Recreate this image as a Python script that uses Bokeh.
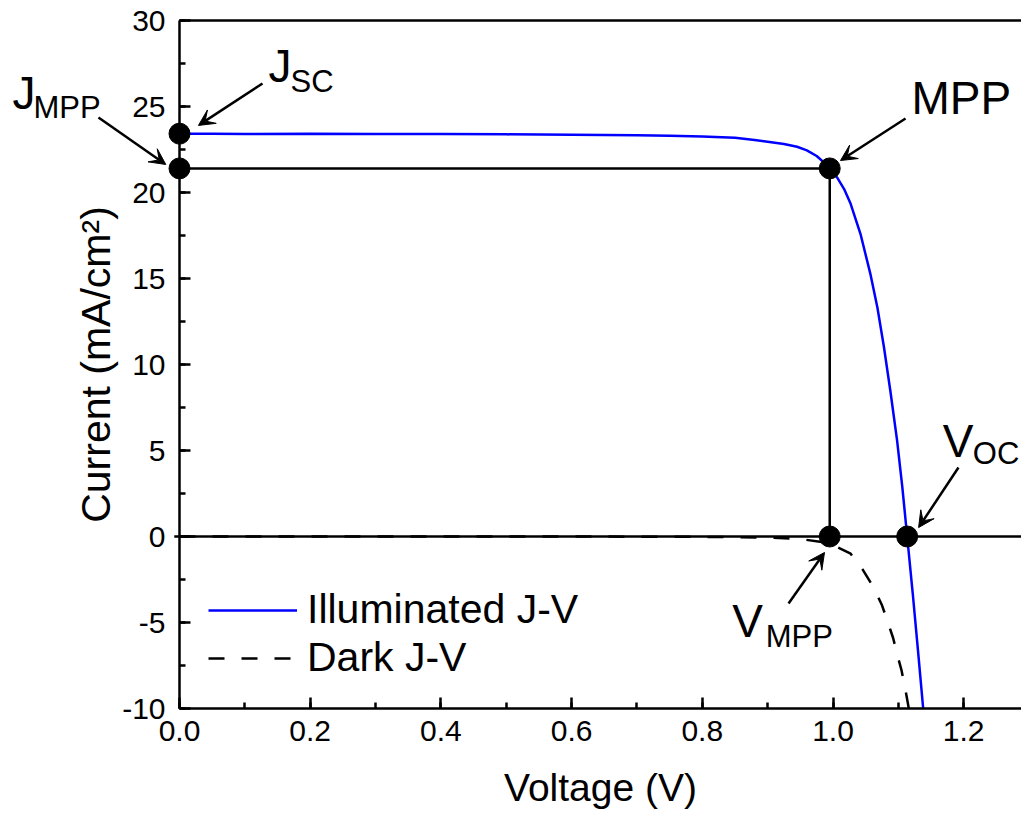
from bokeh.plotting import figure
from bokeh.models import (Range1d, LinearAxis, SingleIntervalTicker, FixedTicker, Label,
                          Arrow, VeeHead, Legend, LegendItem, NumeralTickFormatter)
from bokeh.embed import file_html
from bokeh.resources import INLINE

FONT = "Liberation Sans"

# ---------------- data ----------------
voltage_light = [0.0, 0.05, 0.1, 0.2, 0.3, 0.4, 0.5, 0.6, 0.7, 0.75, 0.8, 0.85, 0.88, 0.9,
                 0.925, 0.945, 0.96, 0.975, 0.986, 0.995, 1.006, 1.017, 1.027, 1.042, 1.057,
                 1.068, 1.078, 1.088, 1.098, 1.106, 1.1135, 1.122, 1.13, 1.138]
current_light = [23.42, 23.42, 23.40, 23.41, 23.40, 23.40, 23.38, 23.36, 23.33, 23.30, 23.26,
                 23.18, 23.05, 22.95, 22.82, 22.66, 22.45, 22.12, 21.75, 21.38, 20.89, 20.20,
                 19.34, 17.60, 15.30, 13.30, 11.00, 8.40, 5.60, 2.90, 0.0, -3.30, -6.60,
                 -10.0]

voltage_dark = [0.0, 0.2, 0.4, 0.6, 0.8, 0.9, 0.95, 0.98, 1.0, 1.027, 1.045, 1.062, 1.075,
                1.083, 1.092, 1.098, 1.105, 1.111, 1.116]
current_dark = [0.0, 0.0, 0.0, 0.0, -0.02, -0.06, -0.15, -0.30, -0.50, -1.00, -1.90, -2.95,
                -4.00, -4.88, -5.90, -6.82, -7.80, -8.95, -10.0]

v_mpp = 0.995
j_mpp = 21.4
j_sc = 23.42
v_oc = 1.1135

x_axis_span = (0.0, 1.3)
y_axis_span = (-10, 30)
x_ticks_interval = 0.2
y_ticks_interval = 5

# ---------------- figure (frame covers the whole canvas) ----------------
W, H = 1021, 816
X0_PX, PX_PER_V = 179, 653.5
Y0_PX, PX_PER_J = 536, 17.2
x_range = Range1d(-X0_PX / PX_PER_V, (W - X0_PX) / PX_PER_V)
y_range = Range1d(-(H - Y0_PX) / PX_PER_J, Y0_PX / PX_PER_J)

p = figure(width=W, height=H, x_range=x_range, y_range=y_range, output_backend="svg",
           toolbar_location=None, min_border=0)
p.grid.visible = False
p.outline_line_color = None
p.background_fill_color = "white"
p.border_fill_color = "white"

LW = 2.5
for ax in (p.xaxis[0], p.yaxis[0]):
    ax.axis_line_width = LW
    ax.major_tick_line_width = LW
    ax.minor_tick_line_width = LW
    ax.major_tick_in = 11
    ax.major_tick_out = 0
    ax.minor_tick_in = 6
    ax.minor_tick_out = 0
    ax.major_label_text_font = FONT
    ax.major_label_text_font_size = "30px"
    ax.major_label_text_color = "black"
    ax.axis_label_text_font = FONT
    ax.axis_label_text_font_style = "normal"
    ax.axis_label_text_color = "black"

p.xaxis.ticker = SingleIntervalTicker(interval=x_ticks_interval, num_minor_ticks=2)
p.xaxis.formatter = NumeralTickFormatter(format="0.0")
p.xaxis.bounds = x_axis_span
p.xaxis.fixed_location = y_axis_span[0]
p.xaxis.axis_label = "Voltage (V)"
p.xaxis.axis_label_text_font_size = "39px"
p.xaxis.major_label_standoff = 12
p.xaxis.axis_label_standoff = 22

p.yaxis.ticker = SingleIntervalTicker(interval=y_ticks_interval, num_minor_ticks=2)
p.yaxis.formatter = NumeralTickFormatter(format="0")
p.yaxis.bounds = y_axis_span
p.yaxis.fixed_location = x_axis_span[0]
p.yaxis.axis_label = "Current (mA/cm²)"
p.yaxis.axis_label_text_font_size = "41px"
p.yaxis.major_label_standoff = 14
p.yaxis.axis_label_standoff = 0

top = LinearAxis(ticker=FixedTicker(ticks=[]), bounds=x_axis_span, axis_line_width=LW,
                 major_tick_line_color=None, minor_tick_line_color=None,
                 major_label_text_font_size="0px", fixed_location=y_axis_span[1])
p.add_layout(top, "above")

# ---------------- lines ----------------
r_light = p.line(voltage_light, current_light, line_color="#0000ff", line_width=LW)
r_dark = p.line(voltage_dark, current_dark, line_color="black", line_width=LW,
                line_dash="16 17")
p.line([-0.008, x_axis_span[1]], [0, 0], line_color="black", line_width=LW)
p.line([0, v_mpp, v_mpp], [j_mpp, j_mpp, 0], line_color="black", line_width=LW)

p.scatter([0, 0, v_mpp, v_mpp, v_oc], [j_sc, j_mpp, j_mpp, 0, 0], size=21,
          fill_color="black", line_color="black")

# ---------------- annotations ----------------
arrows = [  # (x_start, y_start, x_end, y_end)
    (0.127, 26.34, 0.029, 23.90),     # J_SC
    (-0.124, 24.36, -0.021, 21.63),   # J_MPP
    (1.111, 24.30, 1.0115, 21.86),    # MPP
    (1.192, 4.01, 1.131, 0.52),       # V_OC
    (0.932, -3.90, 0.987, -0.93),     # V_MPP
]
for xs, ys, xe, ye in arrows:
    p.add_layout(Arrow(x_start=xs, y_start=ys, x_end=xe, y_end=ye, line_width=LW,
                       line_color="black",
                       end=VeeHead(size=16, fill_color="black", line_color="black",
                                   line_width=1)))

labels = [  # (text, x, y, size)
    ("J", 0.136, 27.38, "46px"), ("SC", 0.170, 26.48, "31px"),
    ("J", -0.2556, 25.76, "46px"), ("MPP", -0.2234, 24.97, "31px"),
    ("MPP", 1.120, 25.47, "46px"),
    ("V", 1.168, 5.58, "46px"), ("OC", 1.214, 4.80, "31px"),
    ("V", 0.846, -4.94, "46px"), ("MPP", 0.897, -5.84, "31px"),
]
for t, x, y, s in labels:
    p.add_layout(Label(x=x, y=y, text=t, text_font=FONT, text_font_size=s,
                       text_color="black", text_baseline="alphabetic"))

legend = Legend(items=[LegendItem(label="Illuminated J-V", renderers=[r_light]),
                       LegendItem(label="Dark J-V", renderers=[r_dark])],
                location=(208, 135), background_fill_alpha=0, border_line_color=None,
                padding=0, margin=0, glyph_width=89, glyph_height=20, label_standoff=10,
                spacing=1, label_text_font=FONT, label_text_font_size="41px",
                label_text_color="black")
p.add_layout(legend)

open("out.html", "w").write(file_html(p, INLINE))
